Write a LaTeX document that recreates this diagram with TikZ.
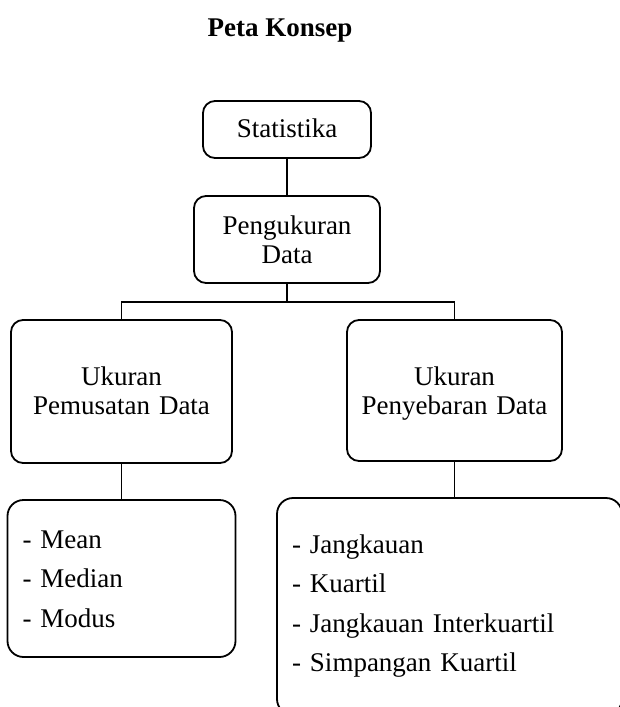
\documentclass[tikz,border=0pt]{standalone}
\usepackage{fontspec}
\setmainfont{Liberation Serif}
\begin{document}
\begin{tikzpicture}[x=1pt,y=-1pt,
  box/.style={draw,line width=1.8pt,rounded corners=12pt,align=center,
    font=\fontsize{27}{29}\selectfont,inner sep=0pt,text height=18pt},
  listbox/.style={draw,line width=1.8pt,rounded corners=16pt,align=left,
    font=\fontsize{27}{39.5}\selectfont,inner ysep=0pt,text height=18pt},
  conn/.style={line width=1.8pt}]
\useasboundingbox (0,0) rectangle (620,707);
\node[font=\bfseries\fontsize{27}{30}\selectfont,anchor=base] (title) at (280,36) {Peta Konsep};
\node[box,minimum width=168pt,minimum height=57pt,text width=150pt,text depth=3pt] (stat) at (287,129.5) {Statistika};
\node[box,minimum width=186pt,minimum height=87pt,text width=170pt,text depth=29pt] (peng) at (287,239.5) {Pengukuran\\Data};
\node[box,minimum width=221pt,minimum height=143pt,text width=205pt,text depth=31pt] (pem) at (121.5,391.5) {Ukuran\\Pemusatan Data};
\node[box,minimum width=215pt,minimum height=141pt,text width=200pt,text depth=29pt] (pen) at (454.5,390.5) {Ukuran\\Penyebaran Data};
\node[listbox,text width=198pt,inner xsep=15pt,minimum height=157pt,text depth=79pt] (pemlist) at (121.5,578.5)
  {- Mean\\- Median\\- Modus};
\node[listbox,text width=315pt,inner xsep=15pt,minimum height=217pt,text depth=125pt] (penlist) at (449.5,606.5)
  {- Jangkauan\\- Kuartil\\- Jangkauan Interkuartil\\- Simpangan Kuartil};
\coordinate (junc) at (287,302);
\draw[conn] (stat.south) -- (peng.north);
\draw[conn] (peng.south) -- (junc);
\draw[conn] (junc) -| (pem.north);
\draw[conn] (junc) -| (pen.north);
\draw[conn] (pem.south) -- (pemlist.north);
\draw[conn] (pen.south) -- (pen.south |- penlist.north);
\end{tikzpicture}
\end{document}
